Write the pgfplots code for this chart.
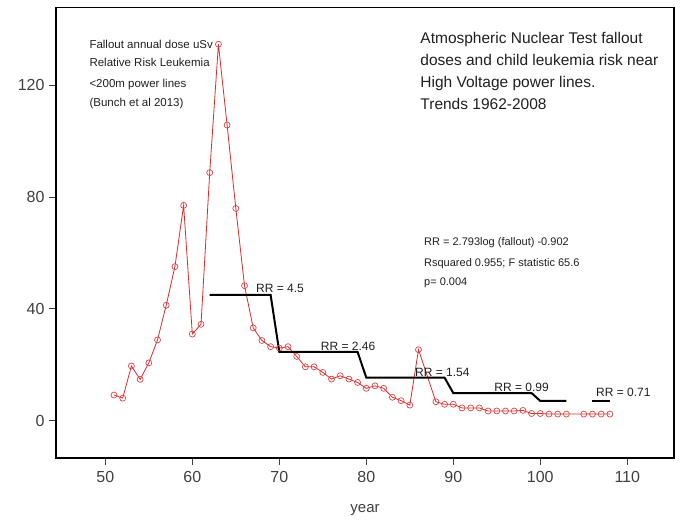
\documentclass[border=0pt]{standalone}
\usepackage{pgfplots}
\pgfplotsset{compat=1.18}
\usepackage{fontspec}
\setmainfont{Liberation Sans}
\usetikzlibrary{calc}
\definecolor{ptred}{HTML}{DD2A2A}
\definecolor{mkred}{HTML}{D64545}
\definecolor{tickgray}{HTML}{404040}
\definecolor{txt}{HTML}{202020}

\pgfplotstableread{
year dose
51 9.2
52 8.1
53 19.6
54 14.8
55 20.7
56 28.9
57 41.3
58 55.1
59 77.0
60 31.0
61 34.5
62 88.7
63 134.6
64 105.7
65 75.9
66 48.3
67 33.2
68 28.7
69 26.5
70 26.0
71 26.5
72 23.0
73 19.3
74 19.3
75 17.3
76 14.9
77 16.1
78 14.9
79 13.7
80 11.6
81 12.5
82 11.6
83 8.4
84 7.2
85 5.6
86 25.4
88 6.8
89 5.9
90 5.9
91 4.6
92 4.6
93 4.6
94 3.5
95 3.5
96 3.5
97 3.5
98 3.7
99 2.6
100 2.6
101 2.4
102 2.4
103 2.4
105 2.4
106 2.4
107 2.4
108 2.4
}\dosetable

\begin{document}
\begin{tikzpicture}
\begin{axis}[
  scale only axis, width=618pt, height=450.7pt,
  xmin=44.33, xmax=115.37, ymin=-13.3, ymax=147.8,
  axis line style={black, line width=1.3pt},
  xtick={50,60,...,110}, ytick={0,40,80,120},
  tick align=outside, xtick pos=bottom, ytick pos=left,
  major tick length=7pt,
  tick style={tickgray, line width=0.8pt},
  ticklabel style={font=\fontsize{16}{18}\selectfont, text=tickgray},
  /pgf/number format/assume math mode=true,
  xticklabel style={yshift=-3pt},
  yticklabel style={xshift=-1pt},
  xlabel={year},
  xlabel style={font=\fontsize{15}{17}\selectfont, text=tickgray, yshift=-15pt},
  clip=false,
]
\addplot[ptred, line width=0.8pt, mark=o, mark size=3pt,
  mark options={mkred, fill=white, line width=0.7pt}] table[x=year, y=dose] {\dosetable};
\addplot[black, line width=2pt] coordinates {
  (62,45) (69,45) (70,24.6) (79,24.6) (80,15.4) (89,15.4)
  (90,9.9) (99,9.9) (100,7.1) (103,7.1)};
\addplot[black, line width=2pt] coordinates {(106,7.1) (108,7.1)};

\begin{scope}[every node/.style={anchor=base west, inner sep=0pt, text=txt}]
\begin{scope}[every node/.append style={font=\fontsize{11.5}{13}\selectfont}]
\node at (axis cs:48.16,133.2) {Fallout annual dose uSv};
\node at (axis cs:48.16,126.5) {Relative Risk Leukemia};
\node at (axis cs:48.16,119.3) {<200m power lines};
\node at (axis cs:48.16,112.5) {(Bunch et al 2013)};
\end{scope}
\begin{scope}[every node/.append style={font=\fontsize{11}{13}\selectfont}]
\node at (axis cs:86.63,62.5) {RR = 2.793log (fallout) -0.902};
\node at (axis cs:86.63,55.3) {Rsquared 0.955; F statistic 65.6};
\node at (axis cs:86.63,48.5) {p= 0.004};
\end{scope}
\begin{scope}[every node/.append style={font=\fontsize{12}{14}\selectfont}]
\node at (axis cs:67.32,45.7) {RR = 4.5};
\node at (axis cs:74.76,25.3) {RR = 2.46};
\node at (axis cs:85.6,16.0) {RR = 1.54};
\node at (axis cs:94.71,10.6) {RR = 0.99};
\node at (axis cs:106.4,8.8) {RR = 0.71};
\end{scope}
\begin{scope}[every node/.append style={font=\fontsize{15.5}{18}\selectfont}]
\node at (axis cs:86.2,134.9) {Atmospheric Nuclear Test fallout};
\node at (axis cs:86.2,127.0) {doses and child leukemia risk near};
\node at (axis cs:86.2,119.1) {High Voltage power lines.};
\node at (axis cs:86.2,111.3) {Trends 1962-2008};
\end{scope}
\end{scope}
\end{axis}
\path[use as bounding box] ($(current axis.south west)+(-56pt,-59pt)$) rectangle ($(current axis.north east)+(10pt,7.3pt)$);
\end{tikzpicture}
\end{document}
